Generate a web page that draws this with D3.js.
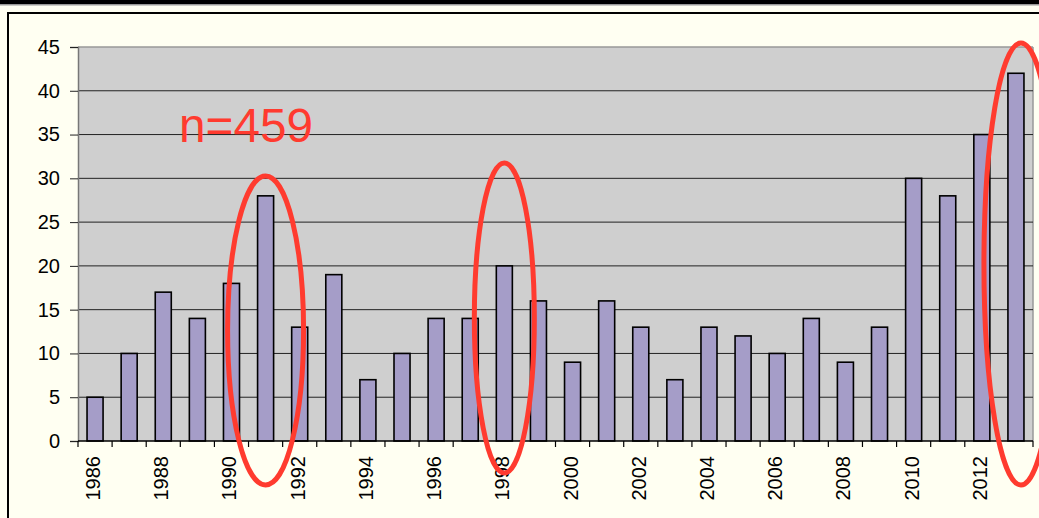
<!DOCTYPE html>
<html><head><meta charset="utf-8">
<script src="https://cdn.jsdelivr.net/npm/d3@7/dist/d3.min.js"></script>
<style>html,body{margin:0;padding:0;background:#FFFFF2;}svg{display:block;}</style>
</head><body>
<svg id="c" width="1039" height="518"></svg>
<script>
const years = [1986,1987,1988,1989,1990,1991,1992,1993,1994,1995,1996,1997,1998,1999,2000,2001,2002,2003,2004,2005,2006,2007,2008,2009,2010,2011,2012,2013];
const counts = [5,10,17,14,18,28,13,19,7,10,14,14,20,16,9,16,13,7,13,12,10,14,9,13,30,28,35,42];
const yTicks = [0,5,10,15,20,25,30,35,40,45];
const labelYears = years.filter(y => y % 2 === 0);
const annotation = "n=459";
const highlights = [{year:1991}, {year:1998}, {year:2013}];

const svg = d3.select("#c");
const W = 1039, H = 518;
const m = {left:78, right:1033, top:47, bottom:441};

// top black bar and frame
svg.append("rect").attr("x",0).attr("y",0).attr("width",W).attr("height",4).attr("fill","#000");
svg.append("rect").attr("x",0).attr("y",4).attr("width",W).attr("height",1.5).attr("fill","#999");
svg.append("rect").attr("x",8).attr("y",13).attr("width",W+20).attr("height",H+20)
  .attr("fill","#FFFFF2").attr("stroke","#000").attr("stroke-width",2);

const x = d3.scaleBand().domain(years).range([m.left, m.right]).paddingInner(0.53).paddingOuter(0.265);
const xb = d3.scaleBand().domain(years).range([m.left, m.right]);
const y = d3.scaleLinear().domain([0,45]).range([m.bottom, m.top]);

// plot area
svg.append("rect").attr("x",m.left).attr("y",m.top).attr("width",m.right-m.left).attr("height",m.bottom-m.top)
  .attr("fill","#CFCFCF");
svg.append("line").attr("x1",m.left).attr("x2",m.right).attr("y1",m.top).attr("y2",m.top).attr("stroke","#999").attr("stroke-width",1.5);
svg.append("line").attr("x1",m.right).attr("x2",m.right).attr("y1",m.top).attr("y2",m.bottom).attr("stroke","#999").attr("stroke-width",1.5);

// gridlines
svg.append("g").selectAll("line").data(yTicks.filter(t=>t>0 && t<45)).join("line")
  .attr("x1",m.left).attr("x2",m.right).attr("y1",d=>y(d)).attr("y2",d=>y(d))
  .attr("stroke","#222").attr("stroke-width",1);

// bars
svg.append("g").selectAll("rect").data(years).join("rect")
  .attr("x",(d)=>x(d)).attr("width",x.bandwidth())
  .attr("y",(d,i)=>y(counts[i])).attr("height",(d,i)=>y(0)-y(counts[i]))
  .attr("fill","#A59DC8").attr("stroke","#000").attr("stroke-width",1.6);

// y axis
const ya = svg.append("g").attr("transform",`translate(${m.left},0)`)
  .call(d3.axisLeft(y).tickValues(yTicks).tickSize(8).tickPadding(10));
ya.select(".domain").attr("stroke","#777").attr("stroke-width",1.5);
ya.selectAll(".tick line").attr("stroke","#222");
ya.selectAll("text").attr("font-family","Liberation Sans, Arial, sans-serif").attr("font-size",20).attr("fill","#000");

// x axis
const xa = svg.append("g").attr("transform",`translate(0,${m.bottom})`);
xa.append("line").attr("x1",m.left).attr("x2",m.right).attr("stroke","#000").attr("stroke-width",1.5);
const bounds = years.map(d=>xb(d)).concat([m.right]);
xa.selectAll("line.tk").data(bounds).join("line").attr("class","tk")
  .attr("x1",d=>d).attr("x2",d=>d).attr("y1",0).attr("y2",6).attr("stroke","#000").attr("stroke-width",1.2);
xa.selectAll("text").data(labelYears).join("text")
  .attr("transform",d=>`translate(${xb(d)+xb.bandwidth()/2+5},${15}) rotate(-90)`)
  .attr("text-anchor","end")
  .attr("font-family","Liberation Sans, Arial, sans-serif").attr("font-size",20).attr("fill","#000")
  .text(d=>d);

// annotation
svg.append("text").attr("x",179).attr("y",142).attr("font-family","Liberation Sans, Arial, sans-serif")
  .attr("font-size",48).attr("textLength",134).attr("lengthAdjust","spacingAndGlyphs")
  .attr("fill","#FF3B2F").text(annotation);

// ellipses around highlighted years
const ellDims = {1991:{rx:38,top:176,bottom:485,dx:0},1998:{rx:30,top:163,bottom:473,dx:0},2013:{rx:37,top:43,bottom:485,dx:5}};
svg.append("g").selectAll("ellipse").data(highlights).join("ellipse")
  .attr("cx",d=>xb(d.year)+xb.bandwidth()/2+ellDims[d.year].dx)
  .attr("cy",d=>(ellDims[d.year].top+ellDims[d.year].bottom)/2)
  .attr("rx",d=>ellDims[d.year].rx)
  .attr("ry",d=>(ellDims[d.year].bottom-ellDims[d.year].top)/2)
  .attr("fill","none").attr("stroke","#FF3B2F").attr("stroke-width",5);
</script>
</body></html>
